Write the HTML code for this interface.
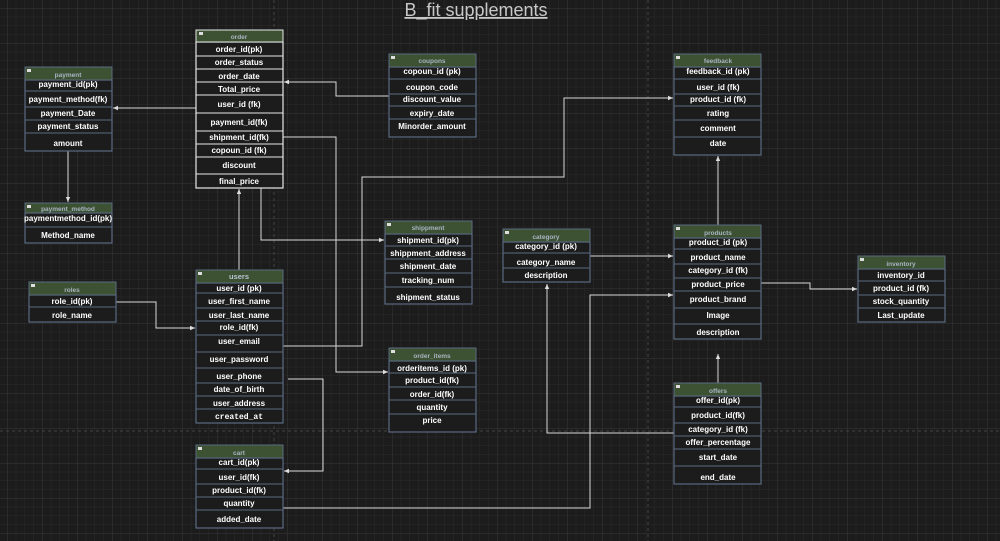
<!DOCTYPE html>
<html><head><meta charset="utf-8"><style>
html,body{margin:0;padding:0;background:#1c1c1c;}
svg{display:block}
.h{fill:#3d5232;stroke:#5a6a80;stroke-width:1}
.b{fill:#1c1c1c;stroke:#5a6a80;stroke-width:1.2}
.s{stroke:#5a6a80;stroke-width:1}
.ht{font:bold 6.5px "Liberation Sans",sans-serif;fill:#a8b4c4;text-anchor:middle}
.t{font:bold 8px "Liberation Sans",sans-serif;fill:#fff;text-anchor:middle}
.c{stroke:#d8d8d8;stroke-width:1;fill:none}
.ic{fill:#ddd}
</style></head><body>
<svg width="1000" height="541" viewBox="0 0 1000 541" xmlns="http://www.w3.org/2000/svg">
<defs>
<pattern id="mn" x="7" y="8" width="8.75" height="8.75" patternUnits="userSpaceOnUse"><path d="M0 0H8.75M0 0V8.75" stroke="#2a2a2a" stroke-width="1" fill="none"/></pattern>
<pattern id="mj" x="7" y="8" width="35" height="35" patternUnits="userSpaceOnUse"><path d="M0 0H35M0 0V35" stroke="#383838" stroke-width="1" fill="none"/></pattern>
<marker id="a" markerWidth="6" markerHeight="6" refX="5" refY="3" orient="auto"><path d="M0 0.8L5 3L0 5.2Z" fill="#ddd"/></marker>
</defs>
<rect width="1000" height="541" fill="#1c1c1c"/>
<rect width="1000" height="541" fill="url(#mn)"/>
<rect width="1000" height="541" fill="url(#mj)"/>
<line x1="274" y1="0" x2="274" y2="541" stroke="#444" stroke-dasharray="3,3"/>
<line x1="648" y1="0" x2="648" y2="541" stroke="#444" stroke-dasharray="3,3"/>
<line x1="0" y1="431" x2="1000" y2="431" stroke="#444" stroke-dasharray="3,3"/>

<text x="476" y="16" style="font:18px 'Liberation Sans',sans-serif;fill:#c8c8c8;text-anchor:middle;text-decoration:underline">B_fit supplements</text>

<!-- connectors -->
<polyline class="c" points="196,108 113,108" marker-end="url(#a)"/>
<polyline class="c" points="68,151 68,202" marker-end="url(#a)"/>
<polyline class="c" points="389,96 336,96 336,82 284,82" marker-end="url(#a)"/>
<polyline class="c" points="283,137 336,137 336,372 388,372" marker-end="url(#a)"/>
<polyline class="c" points="261,188 261,240 384,240" marker-end="url(#a)"/>
<polyline class="c" points="239,270 239,189" marker-end="url(#a)"/>
<polyline class="c" points="283,346 362,346 362,177 564,177 564,98 673,98" marker-end="url(#a)"/>
<polyline class="c" points="116,302 156,302 156,328 195,328" marker-end="url(#a)"/>
<polyline class="c" points="288,379 323,379 323,471 284,471" marker-end="url(#a)"/>
<polyline class="c" points="283,508 590,508 590,295 673,295" marker-end="url(#a)"/>
<polyline class="c" points="590,256 673,256" marker-end="url(#a)"/>
<polyline class="c" points="761,283 810,283 810,289 857,289" marker-end="url(#a)"/>
<polyline class="c" points="718,225 718,156" marker-end="url(#a)"/>
<polyline class="c" points="718,383 718,354" marker-end="url(#a)"/>
<polyline class="c" points="674,433 547,433 547,284" marker-end="url(#a)"/>

<!-- order -->
<rect class="b" x="196" y="42" width="87" height="146" style="stroke:#e8e8e8"/>
<rect class="h" x="196" y="30" width="87" height="12" style="stroke:#e8e8e8"/>
<rect class="ic" x="199" y="32" width="4" height="3"/>
<text class="ht" x="239" y="39">order</text>
<g stroke="#e8e8e8"><line x1="196" y1="56" x2="283" y2="56"/><line x1="196" y1="69" x2="283" y2="69"/><line x1="196" y1="82" x2="283" y2="82"/><line x1="196" y1="95" x2="283" y2="95"/><line x1="196" y1="113" x2="283" y2="113"/><line x1="196" y1="131" x2="283" y2="131"/><line x1="196" y1="144" x2="283" y2="144"/><line x1="196" y1="157" x2="283" y2="157"/><line x1="196" y1="174" x2="283" y2="174"/></g>
<text class="t" x="239" y="52">order_id(pk)</text><text class="t" x="239" y="65">order_status</text><text class="t" x="239" y="79">order_date</text><text class="t" x="239" y="92">Total_price</text><text class="t" x="239" y="107">user_id (fk)</text><text class="t" x="239" y="125">payment_id(fk)</text><text class="t" x="239" y="140">shipment_id(fk)</text><text class="t" x="239" y="153">copoun_id (fk)</text><text class="t" x="239" y="168">discount</text><text class="t" x="239" y="184">final_price</text>

<!-- payment -->
<rect class="b" x="25" y="80" width="87" height="71"/>
<rect class="h" x="25" y="67" width="87" height="13"/>
<rect class="ic" x="27" y="69" width="4" height="3"/>
<text class="ht" x="68" y="77">payment</text>
<line class="s" x1="25" y1="91" x2="112" y2="91"/><line class="s" x1="25" y1="107" x2="112" y2="107"/><line class="s" x1="25" y1="120" x2="112" y2="120"/><line class="s" x1="25" y1="133" x2="112" y2="133"/>
<text class="t" x="68" y="87">payment_id(pk)</text><text class="t" x="68" y="102">payment_method(fk)</text><text class="t" x="68" y="116">payment_Date</text><text class="t" x="68" y="129">payment_status</text><text class="t" x="68" y="146">amount</text>

<!-- payment_method -->
<rect class="b" x="25" y="213" width="87" height="30"/>
<rect class="h" x="25" y="203" width="87" height="10"/>
<rect class="ic" x="27" y="205" width="4" height="3"/>
<text class="ht" x="68" y="211">payment_method</text>
<line class="s" x1="25" y1="227" x2="112" y2="227"/>
<text class="t" x="68" y="221">paymentmethod_id(pk)</text><text class="t" x="68" y="238">Method_name</text>

<!-- coupons -->
<rect class="b" x="389" y="67" width="87" height="70"/>
<rect class="h" x="389" y="54" width="87" height="13"/>
<rect class="ic" x="391" y="56" width="4" height="3"/>
<text class="ht" x="432" y="63">coupons</text>
<line class="s" x1="389" y1="79" x2="476" y2="79"/><line class="s" x1="389" y1="94" x2="476" y2="94"/><line class="s" x1="389" y1="106" x2="476" y2="106"/><line class="s" x1="389" y1="119" x2="476" y2="119"/>
<text class="t" x="432" y="74">copoun_id (pk)</text><text class="t" x="432" y="90">coupon_code</text><text class="t" x="432" y="102">discount_value</text><text class="t" x="432" y="116">expiry_date</text><text class="t" x="432" y="129">Minorder_amount</text>

<!-- shippment -->
<rect class="b" x="385" y="234" width="87" height="70"/>
<rect class="h" x="385" y="221" width="87" height="13"/>
<rect class="ic" x="387" y="223" width="4" height="3"/>
<text class="ht" x="428" y="230">shippment</text>
<line class="s" x1="385" y1="246" x2="472" y2="246"/><line class="s" x1="385" y1="259" x2="472" y2="259"/><line class="s" x1="385" y1="273" x2="472" y2="273"/><line class="s" x1="385" y1="287" x2="472" y2="287"/>
<text class="t" x="428" y="243">shipment_id(pk)</text><text class="t" x="428" y="256">shippment_address</text><text class="t" x="428" y="269">shipment_date</text><text class="t" x="428" y="283">tracking_num</text><text class="t" x="428" y="300">shipment_status</text>

<!-- feedback -->
<rect class="b" x="674" y="67" width="87" height="88"/>
<rect class="h" x="674" y="54" width="87" height="13"/>
<rect class="ic" x="676" y="56" width="4" height="3"/>
<text class="ht" x="718" y="63">feedback</text>
<line class="s" x1="674" y1="79" x2="761" y2="79"/><line class="s" x1="674" y1="94" x2="761" y2="94"/><line class="s" x1="674" y1="106" x2="761" y2="106"/><line class="s" x1="674" y1="120" x2="761" y2="120"/><line class="s" x1="674" y1="137" x2="761" y2="137"/>
<text class="t" x="718" y="74">feedback_id (pk)</text><text class="t" x="718" y="90">user_id (fk)</text><text class="t" x="718" y="102">product_id (fk)</text><text class="t" x="718" y="116">rating</text><text class="t" x="718" y="131">comment</text><text class="t" x="718" y="146">date</text>

<!-- category -->
<rect class="b" x="503" y="242" width="87" height="40"/>
<rect class="h" x="503" y="229" width="87" height="13"/>
<rect class="ic" x="505" y="231" width="4" height="3"/>
<text class="ht" x="546" y="239">category</text>
<line class="s" x1="503" y1="253" x2="590" y2="253"/><line class="s" x1="503" y1="268" x2="590" y2="268"/>
<text class="t" x="546" y="249">category_id (pk)</text><text class="t" x="546" y="265">category_name</text><text class="t" x="546" y="278">description</text>

<!-- products -->
<rect class="b" x="674" y="238" width="87" height="101"/>
<rect class="h" x="674" y="225" width="87" height="13"/>
<rect class="ic" x="676" y="227" width="4" height="3"/>
<text class="ht" x="718" y="235">products</text>
<line class="s" x1="674" y1="249" x2="761" y2="249"/><line class="s" x1="674" y1="264" x2="761" y2="264"/><line class="s" x1="674" y1="278" x2="761" y2="278"/><line class="s" x1="674" y1="291" x2="761" y2="291"/><line class="s" x1="674" y1="308" x2="761" y2="308"/><line class="s" x1="674" y1="324" x2="761" y2="324"/>
<text class="t" x="718" y="245">product_id (pk)</text><text class="t" x="718" y="260">product_name</text><text class="t" x="718" y="273">category_id (fk)</text><text class="t" x="718" y="287">product_price</text><text class="t" x="718" y="302">product_brand</text><text class="t" x="718" y="318">Image</text><text class="t" x="718" y="335">description</text>

<!-- inventory -->
<rect class="b" x="858" y="269" width="87" height="53"/>
<rect class="h" x="858" y="256" width="87" height="13"/>
<rect class="ic" x="860" y="258" width="4" height="3"/>
<text class="ht" x="901" y="266">inventory</text>
<line class="s" x1="858" y1="281" x2="945" y2="281"/><line class="s" x1="858" y1="295" x2="945" y2="295"/><line class="s" x1="858" y1="308" x2="945" y2="308"/>
<text class="t" x="901" y="278">inventory_id</text><text class="t" x="901" y="291">product_id (fk)</text><text class="t" x="901" y="304">stock_quantity</text><text class="t" x="901" y="318">Last_update</text>

<!-- roles -->
<rect class="b" x="29" y="295" width="87" height="27"/>
<rect class="h" x="29" y="282" width="87" height="13"/>
<rect class="ic" x="31" y="284" width="4" height="3"/>
<text class="ht" x="72" y="292">roles</text>
<line class="s" x1="29" y1="307" x2="116" y2="307"/>
<text class="t" x="72" y="304">role_id(pk)</text><text class="t" x="72" y="318">role_name</text>

<!-- users -->
<rect class="b" x="196" y="283" width="87" height="140"/>
<rect class="h" x="196" y="270" width="87" height="13"/>
<rect class="ic" x="198" y="272" width="4" height="3"/>
<text class="t" x="239" y="279" style="fill:#b8c4d4;font-size:7.5px">users</text>
<line class="s" x1="196" y1="293" x2="283" y2="293"/><line class="s" x1="196" y1="308" x2="283" y2="308"/><line class="s" x1="196" y1="321" x2="283" y2="321"/><line class="s" x1="196" y1="335" x2="283" y2="335"/><line class="s" x1="196" y1="352" x2="283" y2="352"/><line class="s" x1="196" y1="368" x2="283" y2="368"/><line class="s" x1="196" y1="383" x2="283" y2="383"/><line class="s" x1="196" y1="396" x2="283" y2="396"/><line class="s" x1="196" y1="409" x2="283" y2="409"/>
<text class="t" x="239" y="291">user_id (pk)</text><text class="t" x="239" y="304">user_first_name</text><text class="t" x="239" y="318">user_last_name</text><text class="t" x="239" y="330">role_id(fk)</text><text class="t" x="239" y="344">user_email</text><text class="t" x="239" y="362">user_password</text><text class="t" x="239" y="379">user_phone</text><text class="t" x="239" y="392">date_of_birth</text><text class="t" x="239" y="406">user_address</text><text class="t" x="239" y="419" style="font-family:'Liberation Mono',monospace">created_at</text>

<!-- order_items -->
<rect class="b" x="389" y="361" width="87" height="71"/>
<rect class="h" x="389" y="348" width="87" height="13"/>
<rect class="ic" x="391" y="350" width="4" height="3"/>
<text class="ht" x="432" y="358">order_items</text>
<line class="s" x1="389" y1="373" x2="476" y2="373"/><line class="s" x1="389" y1="387" x2="476" y2="387"/><line class="s" x1="389" y1="400" x2="476" y2="400"/><line class="s" x1="389" y1="414" x2="476" y2="414"/>
<text class="t" x="432" y="371">orderitems_id (pk)</text><text class="t" x="432" y="383">product_id(fk)</text><text class="t" x="432" y="397">order_id(fk)</text><text class="t" x="432" y="410">quantity</text><text class="t" x="432" y="423">price</text>

<!-- cart -->
<rect class="b" x="196" y="458" width="87" height="70"/>
<rect class="h" x="196" y="445" width="87" height="13"/>
<rect class="ic" x="198" y="447" width="4" height="3"/>
<text class="ht" x="239" y="455">cart</text>
<line class="s" x1="196" y1="469" x2="283" y2="469"/><line class="s" x1="196" y1="484" x2="283" y2="484"/><line class="s" x1="196" y1="497" x2="283" y2="497"/><line class="s" x1="196" y1="510" x2="283" y2="510"/>
<text class="t" x="239" y="465">cart_id(pk)</text><text class="t" x="239" y="480">user_id(fk)</text><text class="t" x="239" y="493">product_id(fk)</text><text class="t" x="239" y="506">quantity</text><text class="t" x="239" y="522">added_date</text>

<!-- offers -->
<rect class="b" x="674" y="396" width="87" height="88"/>
<rect class="h" x="674" y="383" width="87" height="13"/>
<rect class="ic" x="676" y="385" width="4" height="3"/>
<text class="ht" x="718" y="393">offers</text>
<line class="s" x1="674" y1="407" x2="761" y2="407"/><line class="s" x1="674" y1="423" x2="761" y2="423"/><line class="s" x1="674" y1="436" x2="761" y2="436"/><line class="s" x1="674" y1="449" x2="761" y2="449"/><line class="s" x1="674" y1="466" x2="761" y2="466"/>
<text class="t" x="718" y="403">offer_id(pk)</text><text class="t" x="718" y="418">product_id(fk)</text><text class="t" x="718" y="432">category_id (fk)</text><text class="t" x="718" y="445">offer_percentage</text><text class="t" x="718" y="460">start_date</text><text class="t" x="718" y="480">end_date</text>
</svg>
</body></html>
